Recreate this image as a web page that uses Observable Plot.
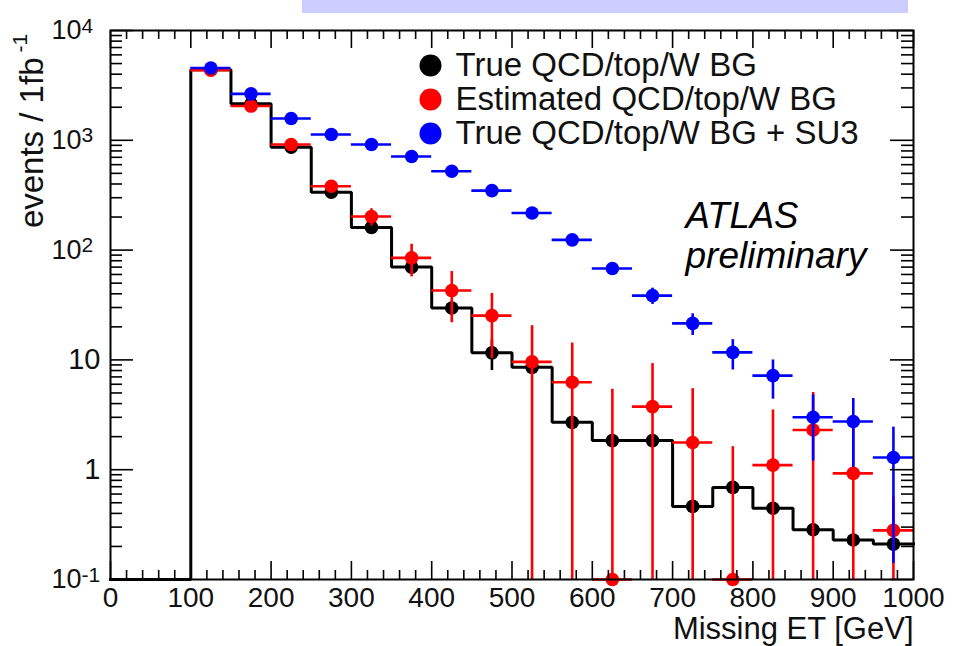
<!DOCTYPE html>
<html><head><meta charset="utf-8">
<script src="https://cdn.jsdelivr.net/npm/d3@7"></script>
<script src="https://cdn.jsdelivr.net/npm/@observablehq/plot@0.6"></script>
<style>
body{margin:0;background:#fff;}
#wrap{position:relative;width:953px;height:646px;overflow:hidden;}
#chart{position:absolute;left:0;top:0;}
#banner{position:absolute;left:302px;top:0;width:606px;height:13px;background:#ccccff;z-index:2;}
</style></head><body>
<div id="wrap"><div id="chart"></div><div id="banner"></div></div>
<script>
// ---- data (Missing ET bins, 50 GeV wide) ----
const binCenters = [125,175,225,275,325,375,425,475,525,575,625,675,725,775,825,875,925,975];
const binHalfWidth = 25;
const histStart = 0;           // histogram drawn from 0 GeV (empty below 100 GeV)
const trueBG   = [4400,2150,865,336,161,70,29.7,11.6,8.55,2.7,1.84,1.84,0.463,0.69,0.445,0.284,0.229,0.21];
const trueErr  = [60,40,25,15,10,6,4,3.6,1.0,0.3,0.2,0.2,0.05,0.08,0.05,0.03,0.025,0.02];
const estBG    = [4350,2050,915,382,202,85,42.8,25.3,9.6,6.25,0,3.75,1.77,0,1.1,2.3,0.925,0.28];
const estErr   = [70,50,30,20,36,28,21,15,10.9,8.0,5.4,5.5,3.7,1.62,2.4,2.75,1.6,0.28];
const sigBG    = [4550,2650,1578,1128,915,711,522,348,218,124,68,38.5,21.5,11.7,7.19,3.0,2.75,1.29];
const sigErr   = [70,50,40,35,30,27,23,19,15,11,8,6.5,4.8,3.6,2.8,1.8,1.7,1.15];

const xTickValues = [0,100,200,300,400,500,600,700,800,900,1000];
const xTickLabels = ["0","100","200","300","400","500","600","700","800","900","1000"];
const yTickValues = [10000,1000,100,10,1,0.1];
const yTickBase   = ["10","10","10","10","1","10"];
const yTickExp    = ["4","3","2","","","-1"];

const legendLabels = ["True QCD/top/W BG","Estimated QCD/top/W BG","True QCD/top/W BG + SU3"];
const legendColors = ["#000000","#ff0000","#0000ff"];

// ---- layout ----
const W = 953, H = 646, mL = 110, mR = 40, mT = 30, mB = 67;
const xMin = 0, xMax = 1000, yMin = 0.1, yMax = 10000;
const pxPerX = (W - mL - mR) / (xMax - xMin);
const pxPerDecade = (H - mT - mB) / Math.log10(yMax / yMin);
const up = (v, px) => v * Math.pow(10, px / pxPerDecade);
const down = (v, px) => v / Math.pow(10, px / pxPerDecade);
const FONT = '"Liberation Sans", Arial, Helvetica, sans-serif';

function series(vals, errs) {
  return binCenters.map((c, i) => ({
    c, lo: c - binHalfWidth, hi: c + binHalfWidth,
    v: Math.max(vals[i], yMin),
    e1: Math.max(vals[i] - errs[i], yMin),
    e2: vals[i] + errs[i]
  }));
}
const sTrue = series(trueBG, trueErr);
const sEst = series(estBG, estErr);
const sSig = series(sigBG, sigErr);

// histogram step outline
const step = [{x: histStart, y: yMin}, {x: sTrue[0].lo, y: yMin}];
sTrue.forEach(d => { step.push({x: d.lo, y: d.v}); step.push({x: d.hi, y: d.v}); });

// ticks
const xMinor = d3.range(xMin, xMax + 1, 20).filter(v => v % 100 !== 0);
const yMinor = [];
[0.1,1,10,100,1000].forEach(d => { for (let k = 2; k <= 9; k++) yMinor.push(d * k); });

function errMarks(s, color, r) {
  return [
    Plot.ruleY(s, {y: "v", x1: "lo", x2: "hi", stroke: color, strokeWidth: 2.6}),
    Plot.ruleX(s, {x: "c", y1: "e1", y2: "e2", stroke: color, strokeWidth: 2.6}),
    Plot.dot(s, {x: "c", y: "v", r, fill: color, stroke: "none"})
  ];
}

const yLab = yTickValues.map((v, i) => ({v, base: yTickBase[i], exp: yTickExp[i]}));

const marks = [
  // histogram
  Plot.line(step, {x: "x", y: "y", stroke: "black", strokeWidth: 3, strokeLinejoin: "miter", strokeLinecap: "square"}),
  Plot.ruleX(sTrue, {x: "c", y1: "e1", y2: "e2", stroke: "black", strokeWidth: 2.6}),
  Plot.dot(sTrue, {x: "c", y: "v", r: 6.8, fill: "black"}),
  ...errMarks(sEst, "#ff0000", 6.8),
  ...errMarks(sSig, "#0000ff", 6.8),
  // frame
  Plot.frame({stroke: "black", strokeWidth: 2}),
  // x ticks bottom & top
  Plot.ruleX(xTickValues, {x: d => d, y1: yMin, y2: up(yMin, 18), stroke: "black", strokeWidth: 1.6}),
  Plot.ruleX(xMinor, {x: d => d, y1: yMin, y2: up(yMin, 9), stroke: "black", strokeWidth: 1.6}),
  Plot.ruleX(xTickValues, {x: d => d, y1: yMax, y2: down(yMax, 18), stroke: "black", strokeWidth: 1.6}),
  Plot.ruleX(xMinor, {x: d => d, y1: yMax, y2: down(yMax, 9), stroke: "black", strokeWidth: 1.6}),
  // y ticks left & right
  Plot.ruleY(yTickValues, {y: d => d, x1: xMin, x2: xMin + 23 / pxPerX, stroke: "black", strokeWidth: 1.6}),
  Plot.ruleY(yMinor, {y: d => d, x1: xMin, x2: xMin + 12 / pxPerX, stroke: "black", strokeWidth: 1.6}),
  Plot.ruleY(yTickValues, {y: d => d, x1: xMax, x2: xMax - 23 / pxPerX, stroke: "black", strokeWidth: 1.6}),
  Plot.ruleY(yMinor, {y: d => d, x1: xMax, x2: xMax - 12 / pxPerX, stroke: "black", strokeWidth: 1.6}),
  // x tick labels
  Plot.text(xTickValues, {x: d => d, frameAnchor: "bottom", dy: 18.5, text: (d, i) => xTickLabels[i], fontSize: 28, fill: "#111", lineAnchor: "middle"}),
  // y tick labels
  Plot.text(yLab.filter(d => d.exp), {y: "v", frameAnchor: "left", dx: -29, textAnchor: "end", text: "base", fontSize: 27, fill: "#111", lineAnchor: "middle"}),
  Plot.text(yLab.filter(d => d.exp), {y: "v", frameAnchor: "left", dx: -29, dy: 2, textAnchor: "start", text: "exp", fontSize: 21, fill: "#111", lineAnchor: "bottom"}),
  Plot.text(yLab.filter(d => !d.exp), {y: "v", frameAnchor: "left", dx: -10, textAnchor: "end", text: "base", fontSize: 29, fill: "#111", lineAnchor: "middle"}),
  // axis titles
  Plot.text(["Missing ET [GeV]"], {frameAnchor: "bottom-right", dy: 59.5, textAnchor: "end", lineAnchor: "bottom", text: d => d, fontSize: 31, fill: "#111"}),
  Plot.text(["events / 1fb"], {frameAnchor: "top-left", dx: -68, dy: 27, rotate: -90, textAnchor: "end", lineAnchor: "bottom", text: d => d, fontSize: 33, fill: "#111"}),
  Plot.text(["-1"], {frameAnchor: "top-left", dx: -84, dy: 22, rotate: -90, textAnchor: "start", lineAnchor: "bottom", text: d => d, fontSize: 21, fill: "#111"}),
  // ATLAS label
  Plot.text(["ATLAS"], {frameAnchor: "top-left", dx: 575, dy: 197, textAnchor: "start", lineAnchor: "bottom", text: d => d, fontSize: 36.5, fontStyle: "italic", fill: "black"}),
  Plot.text(["preliminary"], {frameAnchor: "top-left", dx: 575, dy: 237, textAnchor: "start", lineAnchor: "bottom", text: d => d, fontSize: 37, fontStyle: "italic", fill: "black"})
];

// legend
legendLabels.forEach((lab, i) => {
  marks.push(Plot.dot([lab], {frameAnchor: "top-left", dx: 320, dy: 35 + 34 * i, r: 11, fill: legendColors[i]}));
  marks.push(Plot.text([lab], {frameAnchor: "top-left", dx: 345, dy: 35 + 34 * i, textAnchor: "start", lineAnchor: "middle", text: d => d, fontSize: 33, fill: "#111"}));
});

const chart = Plot.plot({
  width: W, height: H,
  marginLeft: mL, marginRight: mR, marginTop: mT, marginBottom: mB,
  x: {domain: [xMin, xMax], axis: null},
  y: {type: "log", domain: [yMin, yMax], axis: null},
  style: {fontFamily: FONT, background: "white", overflow: "visible"},
  marks
});
document.getElementById("chart").appendChild(chart);
</script>
</body></html>
